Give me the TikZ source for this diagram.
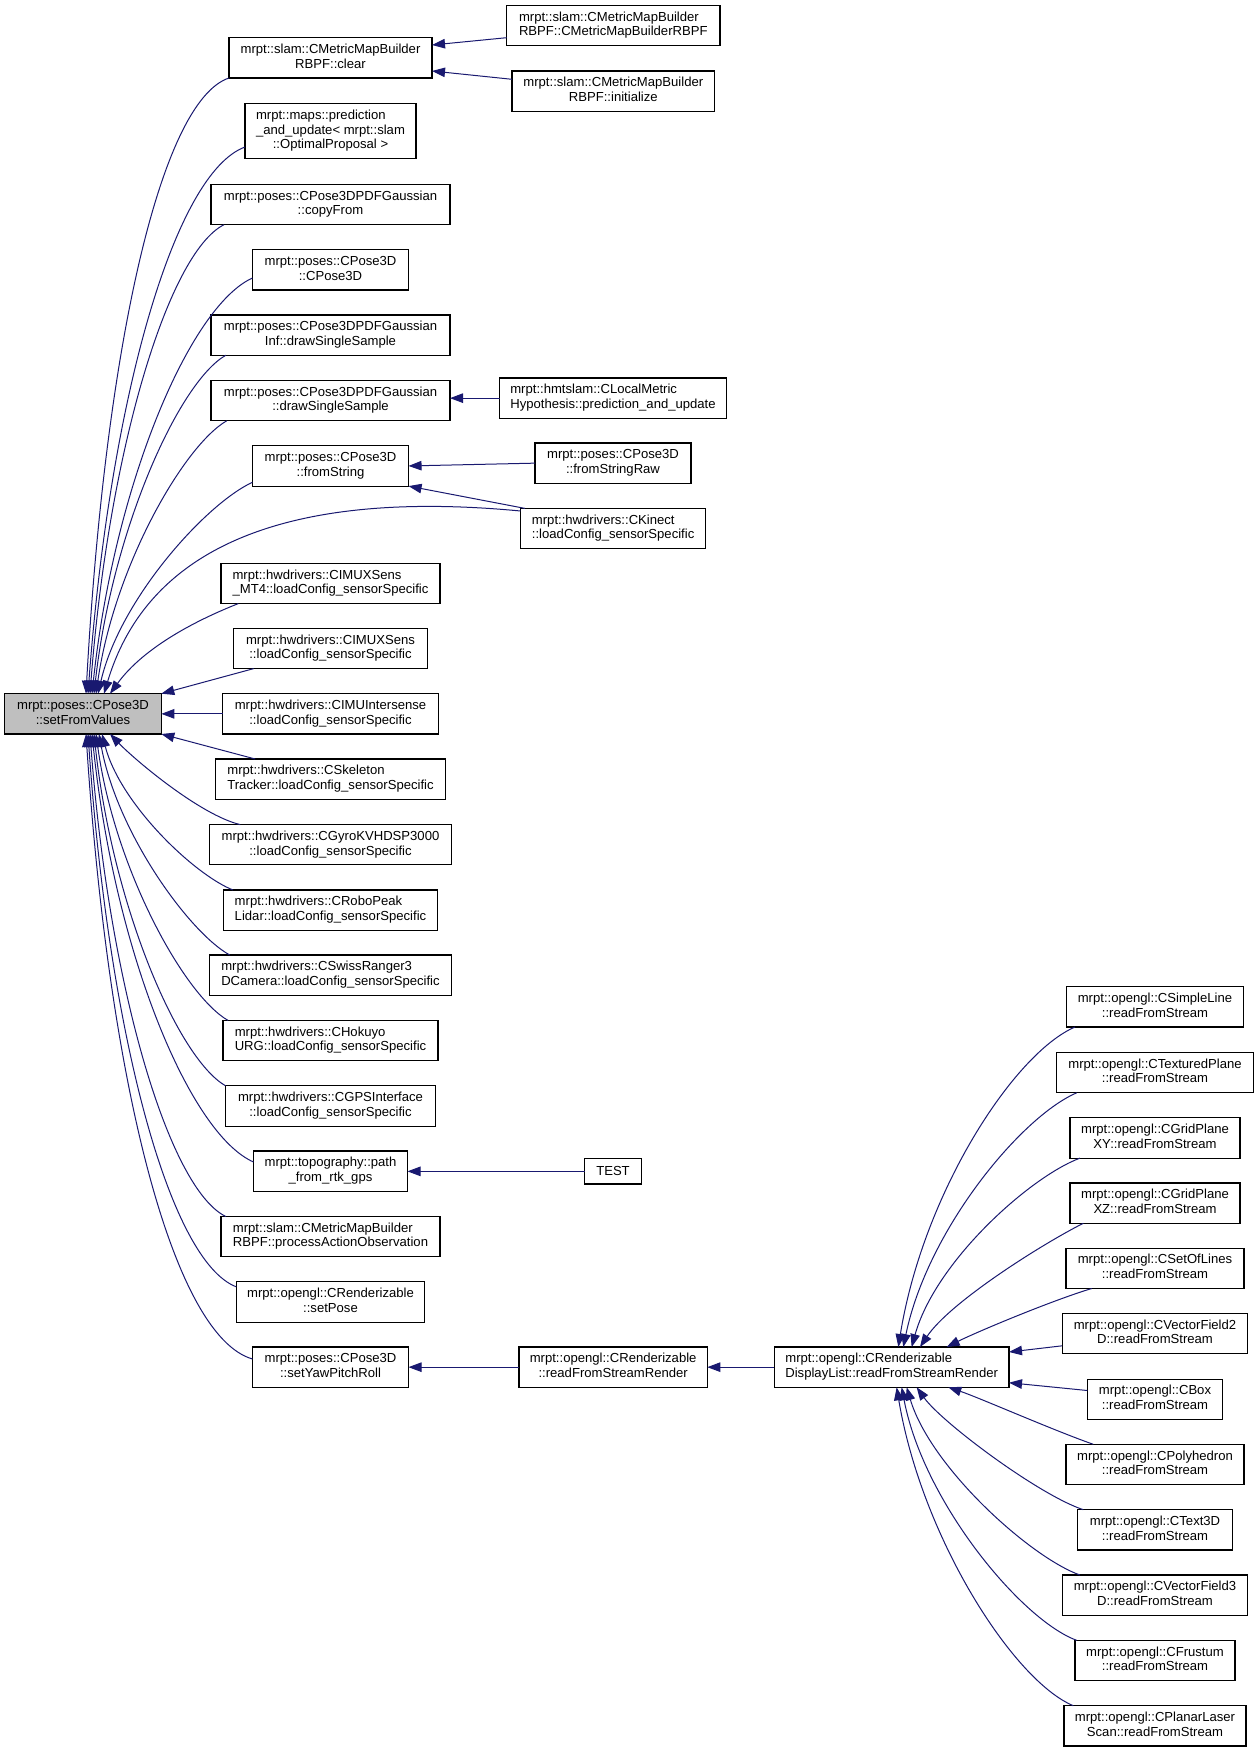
\documentclass[tikz,border=0pt]{standalone}
\usepackage{fontspec}
\setmainfont{Liberation Sans}
\usetikzlibrary{arrows.meta}
\definecolor{edgeblue}{HTML}{191970}
\definecolor{sfvgray}{HTML}{BFBFBF}
\newcommand{\twol}[2]{\begin{tabular}{@{}c@{}}\multicolumn{1}{@{}l@{}}{#1}\\#2\end{tabular}}
\newcommand{\threel}[3]{\begin{tabular}{@{}c@{}}\multicolumn{1}{@{}l@{}}{#1}\\\multicolumn{1}{@{}l@{}}{#2}\\#3\end{tabular}}
\tikzset{
  box/.style={draw=black, fill=white, line width=1.1pt, inner sep=0pt, outer sep=0pt,
    font=\fontsize{13.1}{14.7}\selectfont, text=black},
  wh/.style 2 args={minimum width=#1pt, minimum height=#2pt},
  calls/.style={draw=edgeblue, line width=1pt, -{Triangle[length=13pt,width=9.5pt]}}
}
\begin{document}
\begin{tikzpicture}[x=1pt,y=-1pt]
\fill[white] (0,0) rectangle (1259,1752);
\useasboundingbox (0,0) rectangle (1259,1752);

% focus node
\node[box, fill=sfvgray, wh={156.6}{40.3}] (sfv) at (83,713.85) {\twol{mrpt::poses::CPose3D}{::setFromValues}};

% middle column
\node[box, wh={203}{40.2}] (clear) at (330.5,57.9) {\twol{mrpt::slam::CMetricMapBuilder}{RBPF::clear}};
\node[box, wh={171}{54.7}] (pred) at (330.5,131.15) {\threel{mrpt::maps::prediction}{\_and\_update< mrpt::slam}{::OptimalProposal >}};
\node[box, wh={239}{40.3}] (copyfrom) at (330.5,204.55) {\twol{mrpt::poses::CPose3DPDFGaussian}{::copyFrom}};
\node[box, wh={156.1}{40.3}] (cpose) at (330.5,269.85) {\twol{mrpt::poses::CPose3D}{::CPose3D}};
\node[box, wh={239}{40.3}] (gaussinf) at (330.5,335.15) {\twol{mrpt::poses::CPose3DPDFGaussian}{Inf::drawSingleSample}};
\node[box, wh={239}{40.3}] (drawss) at (330.5,400.65) {\twol{mrpt::poses::CPose3DPDFGaussian}{::drawSingleSample}};
\node[box, wh={156.1}{40.3}] (fromstring) at (330.5,465.95) {\twol{mrpt::poses::CPose3D}{::fromString}};
\node[box, wh={219}{40.3}] (mt4) at (330.5,583.45) {\twol{mrpt::hwdrivers::CIMUXSens}{\_MT4::loadConfig\_sensorSpecific}};
\node[box, wh={194.6}{40.3}] (cimuxsens) at (330.5,648.45) {\twol{mrpt::hwdrivers::CIMUXSens}{::loadConfig\_sensorSpecific}};
\node[box, wh={216}{40.3}] (cimuint) at (330.5,713.85) {\twol{mrpt::hwdrivers::CIMUIntersense}{::loadConfig\_sensorSpecific}};
\node[box, wh={229.4}{40.3}] (cskel) at (330.5,779.15) {\twol{mrpt::hwdrivers::CSkeleton}{Tracker::loadConfig\_sensorSpecific}};
\node[box, wh={242.6}{40.3}] (cgyro) at (330.5,844.75) {\twol{mrpt::hwdrivers::CGyroKVHDSP3000}{::loadConfig\_sensorSpecific}};
\node[box, wh={213.7}{40.3}] (crobo) at (330.5,910.15) {\twol{mrpt::hwdrivers::CRoboPeak}{Lidar::loadConfig\_sensorSpecific}};
\node[box, wh={241.5}{40.3}] (cswiss) at (330.5,975.15) {\twol{mrpt::hwdrivers::CSwissRanger3}{DCamera::loadConfig\_sensorSpecific}};
\node[box, wh={215}{40.3}] (chokuyo) at (330.5,1040.55) {\twol{mrpt::hwdrivers::CHokuyo}{URG::loadConfig\_sensorSpecific}};
\node[box, wh={209.9}{40.3}] (cgps) at (330.5,1105.95) {\twol{mrpt::hwdrivers::CGPSInterface}{::loadConfig\_sensorSpecific}};
\node[box, wh={154}{40.3}] (path) at (330.5,1171.15) {\twol{mrpt::topography::path}{\_from\_rtk\_gps}};
\node[box, wh={219}{40.3}] (procact) at (330.5,1236.65) {\twol{mrpt::slam::CMetricMapBuilder}{RBPF::processActionObservation}};
\node[box, wh={188.5}{40.3}] (setpose) at (330.5,1301.95) {\twol{mrpt::opengl::CRenderizable}{::setPose}};
\node[box, wh={156}{40.3}] (sypr) at (330.5,1367.15) {\twol{mrpt::poses::CPose3D}{::setYawPitchRoll}};

% right column 1
\node[box, wh={213.4}{40}] (ctor) at (613.3,25.7) {\twol{mrpt::slam::CMetricMapBuilder}{RBPF::CMetricMapBuilderRBPF}};
\node[box, wh={202.7}{40.3}] (init) at (613.3,91.15) {\twol{mrpt::slam::CMetricMapBuilder}{RBPF::initialize}};
\node[box, wh={226.7}{40.3}] (clm) at (613,398.15) {\twol{mrpt::hmtslam::CLocalMetric}{Hypothesis::prediction\_and\_update}};
\node[box, wh={156}{40.3}] (fsr) at (613,463.15) {\twol{mrpt::poses::CPose3D}{::fromStringRaw}};
\node[box, wh={185.3}{40.3}] (ckinect) at (613.15,528.55) {\twol{mrpt::hwdrivers::CKinect}{::loadConfig\_sensorSpecific}};
\node[box, wh={56.6}{25.3}] (test) at (613,1171.35) {TEST};
\node[box, wh={188.3}{40.3}] (rfsr) at (613.15,1367.15) {\twol{mrpt::opengl::CRenderizable}{::readFromStreamRender}};

% right column 2
\node[box, wh={234.7}{40.3}] (dl) at (891.65,1367.15) {\twol{mrpt::opengl::CRenderizable}{DisplayList::readFromStreamRender}};

% right column 3
\node[box, wh={176.6}{40.3}] (csimple) at (1155,1006.85) {\twol{mrpt::opengl::CSimpleLine}{::readFromStream}};
\node[box, wh={196.6}{40.3}] (ctex) at (1155,1072.65) {\twol{mrpt::opengl::CTexturedPlane}{::readFromStream}};
\node[box, wh={170}{40.3}] (cgxy) at (1155,1137.95) {\twol{mrpt::opengl::CGridPlane}{XY::readFromStream}};
\node[box, wh={170}{40.3}] (cgxz) at (1155,1203.15) {\twol{mrpt::opengl::CGridPlane}{XZ::readFromStream}};
\node[box, wh={178}{40.3}] (csol) at (1155,1268.35) {\twol{mrpt::opengl::CSetOfLines}{::readFromStream}};
\node[box, wh={185.7}{40.3}] (cvf2) at (1155,1333.65) {\twol{mrpt::opengl::CVectorField2}{D::readFromStream}};
\node[box, wh={135.4}{40.3}] (cbox) at (1155,1399.25) {\twol{mrpt::opengl::CBox}{::readFromStream}};
\node[box, wh={178}{40.3}] (cpoly) at (1155,1464.45) {\twol{mrpt::opengl::CPolyhedron}{::readFromStream}};
\node[box, wh={154.6}{40.3}] (ctext) at (1155,1529.85) {\twol{mrpt::opengl::CText3D}{::readFromStream}};
\node[box, wh={185.7}{40.3}] (cvf3) at (1155,1595.15) {\twol{mrpt::opengl::CVectorField3}{D::readFromStream}};
\node[box, wh={160}{40.3}] (cfrust) at (1155,1660.45) {\twol{mrpt::opengl::CFrustum}{::readFromStream}};
\node[box, wh={182}{40.3}] (cplanar) at (1155,1725.85) {\twol{mrpt::opengl::CPlanarLaser}{Scan::readFromStream}};

% edges into setFromValues from above
\draw[calls] (clear.south west) .. controls +(-69,23) and +(19,-344) .. ([xshift=3pt]sfv.north);
\draw[calls] ([yshift=11.5pt]pred.south west) .. controls +(-70.5,26) and +(22,-296) .. ([xshift=5pt]sfv.north);
\draw[calls] ([xshift=13pt]copyfrom.south west) .. controls +(-55.6,28) and +(18.8,-244) .. ([xshift=7pt]sfv.north);
\draw[calls] ([yshift=12pt]cpose.south west) .. controls +(-62.5,28.3) and +(22.4,-210) .. ([xshift=9pt]sfv.north);
\draw[calls] ([xshift=14.7pt]gaussinf.south west) .. controls +(-47,27) and +(18.4,-164) .. ([xshift=11pt]sfv.north);
\draw[calls] ([xshift=15.7pt]drawss.south west) .. controls +(-42.8,24.7) and +(18.3,-127.4) .. ([xshift=13pt]sfv.north);
\draw[calls] ([yshift=3.8pt]fromstring.south west) .. controls +(-46,21) and +(22,-95) .. ([xshift=15pt]sfv.north);
\draw[calls] ([yshift=-2.6pt]ckinect.north west) .. controls +(-220.5,-21) and +(46,-153.7) .. ([xshift=21pt]sfv.north);
\draw[calls] ([xshift=17.3pt]mt4.south west) .. controls +(-38,15) and +(35,-48) .. ([xshift=27pt]sfv.north);
\draw[calls] ([xshift=20.5pt]cimuxsens.south west) -- (sfv.north east);
\draw[calls] (cimuint.west) -- (sfv.east);
% edges into setFromValues from below
\draw[calls] ([xshift=39.4pt]cskel.north west) -- (sfv.south east);
\draw[calls] ([xshift=31pt]cgyro.north west) .. controls +(-40,-9.6) and +(25,26) .. ([xshift=27pt]sfv.south);
\draw[calls] ([xshift=9.3pt]crobo.north west) .. controls +(-39,-15.6) and +(18.3,70) .. ([xshift=19pt]sfv.south);
\draw[calls] ([xshift=20pt]cswiss.north west) .. controls +(-39.7,-21.7) and +(18.3,99.8) .. ([xshift=16pt]sfv.south);
\draw[calls] ([xshift=5pt]chokuyo.north west) .. controls +(-44,-25.3) and +(18.5,134.7) .. ([xshift=13pt]sfv.south);
\draw[calls] (cgps.north west) .. controls +(-47.8,-27.5) and +(18.5,171.6) .. ([xshift=11pt]sfv.south);
\draw[calls] ([yshift=-11pt]path.north west) .. controls +(-64,-28.3) and +(22.6,218) .. ([xshift=9pt]sfv.south);
\draw[calls] ([xshift=4.8pt]procact.north west) .. controls +(-57,-27.9) and +(19,252.7) .. ([xshift=7pt]sfv.south);
\draw[calls] ([yshift=-5pt]setpose.north west) .. controls +(-67,-25.9) and +(20.8,300) .. ([xshift=5pt]sfv.south);
\draw[calls] ([yshift=-12pt]sypr.north west) .. controls +(-79.7,-23) and +(23,350) .. ([xshift=3pt]sfv.south);

% other edges
\draw[calls] ([yshift=8pt]ctor.south west) -- ([yshift=-7.2pt]clear.north east);
\draw[calls] ([yshift=-8.3pt]init.north west) -- ([yshift=7pt]clear.south east);
\draw[calls] (clm.west) -- (clm.west -| drawss.east);
\draw[calls] (fsr.west) -- (fromstring.east);
\draw[calls] ([xshift=4.5pt]ckinect.north west) -- (fromstring.south east);
\draw[calls] (test.west) -- (test.west -| path.east);
\draw[calls] (rfsr.west) -- (sypr.east);
\draw[calls] (dl.west) -- (rfsr.east);

% edges into DisplayList
\draw[calls] ([xshift=8.3pt]csimple.south west) .. controls +(-61.5,26.5) and +(24.7,-153.3) .. ([xshift=6.65pt]dl.north);
\draw[calls] ([xshift=20pt]ctex.south west) .. controls +(-55.4,23.7) and +(24.3,-117.4) .. ([xshift=11.65pt]dl.north);
\draw[calls] ([xshift=10pt]cgxy.south west) .. controls +(-50.5,18.9) and +(23.6,-85) .. ([xshift=20pt]dl.north);
\draw[calls] ([xshift=13.3pt]cgxz.south west) .. controls +(-40,20) and +(30,-45) .. ([xshift=28.35pt]dl.north);
\draw[calls] ([xshift=25.7pt]csol.south west) .. controls +(-40,12) and +(30,-15) .. ([xshift=55pt]dl.north);
\draw[calls] ([yshift=8pt]cvf2.south west) -- ([yshift=-5pt]dl.north east);
\draw[calls] ([yshift=-11.4pt]cbox.north west) -- ([yshift=4.6pt]dl.south east);
\draw[calls] ([xshift=27.3pt]cpoly.north west) .. controls +(-40,-14) and +(30,10) .. ([xshift=56.65pt]dl.south);
\draw[calls] ([xshift=5.6pt]ctext.north west) .. controls +(-45,-15) and +(25,35) .. ([xshift=25pt]dl.south);
\draw[calls] ([xshift=17.7pt]cvf3.north west) .. controls +(-50,-18) and +(24,80) .. ([xshift=15pt]dl.south);
\draw[calls] ([xshift=1.7pt]cfrust.north west) .. controls +(-55,-20) and +(22,115) .. ([xshift=10pt]dl.south);
\draw[calls] ([xshift=9.3pt]cplanar.north west) .. controls +(-60,-25) and +(25,150) .. ([xshift=5pt]dl.south);
\end{tikzpicture}
\end{document}
